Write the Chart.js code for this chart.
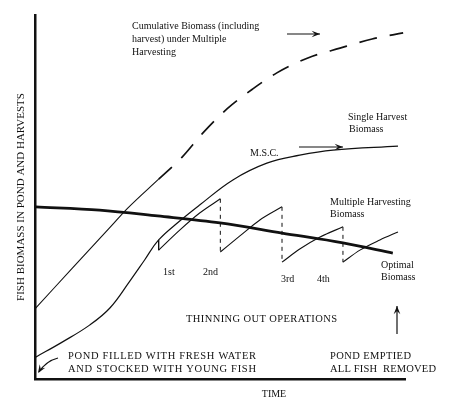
<!DOCTYPE html>
<html>
<head>
<meta charset="utf-8">
<script src="https://cdn.jsdelivr.net/npm/chart.js@4.4.0/dist/chart.umd.min.js"></script>
<style>
  html, body { margin: 0; padding: 0; background: #fff; }
</style>
</head>
<body>
<canvas id="myChart" width="450" height="412"></canvas>
<script>
// Both axes are unitless (0-100)

// Optimal biomass (thick line)
const optimalX = [0, 17.3, 33.0, 49.9, 66.7, 83.2, 96.7];
const optimalY = [47.3, 46.4, 44.8, 42.9, 40.1, 37.4, 34.6];

// Single harvest biomass (S-curve)
const singleX = [0, 7.3, 14.6, 20.1, 25.5, 29.5, 33.3, 39.0, 44.4, 53.4, 62.6, 71.5, 80.5, 98.1];
const singleY = [6.0, 10.2, 14.8, 19.5, 26.9, 32.7, 38.2, 43.4, 47.8, 54.7, 59.3, 61.5, 62.9, 64.0];

// Cumulative biomass: solid up to the 1st thinning, dashed afterwards
const cumSolidX = [0, 10, 20, 25, 33.3];
const cumSolidY = [19.5, 30.5, 41.5, 47.0, 54.9];
const cumDashX = [33.3, 39.6, 45.3, 51.8, 58.8, 65.3, 73.7, 82.4, 91.1, 99.5];
const cumDashY = [54.9, 60.9, 67.6, 74.2, 79.7, 84.1, 88.2, 90.9, 93.4, 95.1];

// Multiple harvesting biomass: regrowth after each thinning
const harvestLabels = ['1st', '2nd', '3rd', '4th'];
const regrowX = [
  [33.3, 39.0, 44.4, 50.0],
  [50.0, 55.3, 60.7, 66.7],
  [66.7, 71.5, 77.0, 83.2],
  [83.2, 87.8, 93.2, 98.1]
];
const regrowY = [
  [35.4, 40.9, 45.6, 49.5],
  [34.9, 39.3, 43.7, 47.3],
  [32.1, 35.7, 39.0, 41.8],
  [32.1, 35.4, 38.2, 40.4]
];

const pts = (xs, ys) => xs.map((x, i) => ({ x: x, y: ys[i] }));
const serif = '"Liberation Serif", "Times New Roman", serif';

const datasets = [
  { data: pts(optimalX, optimalY), borderWidth: 2.8 },
  { data: pts(singleX, singleY), borderWidth: 1.2, tension: 0.4 },
  { data: pts(cumSolidX, cumSolidY), borderWidth: 1.1 },
  { data: pts(cumDashX, cumDashY), borderWidth: 1.7, borderDash: [18, 13] }
];

regrowX.forEach((xs, i) => {
  datasets.push({ data: pts(xs, regrowY[i]), borderWidth: 1.1 });
  // the thinning drop just before this regrowth
  const top = i === 0 ? singleY[singleX.indexOf(xs[0])] : regrowY[i - 1][regrowY[i - 1].length - 1];
  datasets.push({
    data: [{ x: xs[0], y: top }, { x: xs[0], y: regrowY[i][0] }],
    borderWidth: 1,
    borderDash: i === 0 ? [] : [4, 4],
    tension: 0
  });
});

datasets.forEach(d => {
  d.borderColor = '#111';
  d.pointRadius = 0;
  d.fill = false;
  if (d.tension === undefined) d.cubicInterpolationMode = 'monotone';
});

// free text and arrows of the sketch
function label(ctx, text, x, y, width) {
  if (width) {
    const w = ctx.measureText(text).width;
    ctx.letterSpacing = ((width - w) / (text.length - 1)) + 'px';
  }
  ctx.fillText(text, x, y);
  ctx.letterSpacing = '0px';
}

function arrow(ctx, x1, y1, x2, y2) {
  ctx.beginPath();
  ctx.moveTo(x1, y1);
  ctx.lineTo(x2, y2);
  ctx.stroke();
  head(ctx, x2, y2, Math.atan2(y2 - y1, x2 - x1));
}

function head(ctx, x, y, a) {
  ctx.beginPath();
  ctx.moveTo(x, y);
  ctx.lineTo(x - 9 * Math.cos(a - 0.38), y - 9 * Math.sin(a - 0.38));
  ctx.lineTo(x - 5 * Math.cos(a), y - 5 * Math.sin(a));
  ctx.lineTo(x - 9 * Math.cos(a + 0.38), y - 9 * Math.sin(a + 0.38));
  ctx.closePath();
  ctx.fill();
}

const notes = {
  id: 'notes',
  afterDraw(chart) {
    const ctx = chart.ctx;
    ctx.save();
    ctx.fillStyle = '#111';
    ctx.strokeStyle = '#111';
    ctx.lineWidth = 1.2;
    ctx.textBaseline = 'middle';
    ctx.textAlign = 'left';

    ctx.font = '10px ' + serif;
    label(ctx, 'Cumulative Biomass (including', 132, 26);
    label(ctx, 'harvest) under Multiple', 132, 39);
    label(ctx, 'Harvesting', 132, 52);
    label(ctx, 'Single Harvest', 348, 117);
    label(ctx, 'Biomass', 349, 129);
    label(ctx, 'M.S.C.', 250, 153);
    label(ctx, 'Multiple Harvesting', 330, 202);
    label(ctx, 'Biomass', 330, 214);
    label(ctx, harvestLabels[0], 163, 272);
    label(ctx, harvestLabels[1], 203, 272);
    label(ctx, harvestLabels[2], 281, 279);
    label(ctx, harvestLabels[3], 317, 279);
    label(ctx, 'Optimal', 381, 265);
    label(ctx, 'Biomass', 381, 277);

    ctx.font = '10.5px ' + serif;
    label(ctx, 'THINNING OUT OPERATIONS', 186, 319, 151);
    label(ctx, 'POND FILLED WITH FRESH WATER', 68, 356, 188);
    label(ctx, 'AND STOCKED WITH YOUNG FISH', 68, 369, 188);
    label(ctx, 'POND EMPTIED', 330, 356, 81);
    label(ctx, 'ALL FISH  REMOVED', 330, 369, 106);
    ctx.font = '10px ' + serif;
    ctx.textAlign = 'center';
    ctx.fillText('TIME', 274, 394);

    arrow(ctx, 287, 34, 320, 34);
    arrow(ctx, 299, 147, 343, 147);
    arrow(ctx, 397, 334, 397, 306);

    ctx.beginPath();
    ctx.moveTo(58, 358);
    ctx.quadraticCurveTo(46, 361, 39, 372);
    ctx.stroke();
    head(ctx, 38, 373, Math.atan2(11, -7));
    ctx.restore();
  }
};

const ctx = document.getElementById('myChart').getContext('2d');
new Chart(ctx, {
  type: 'line',
  data: { datasets: datasets },
  plugins: [notes],
  options: {
    responsive: false,
    animation: false,
    layout: { padding: { left: 11, top: 15, right: 45, bottom: 33 } },
    scales: {
      x: {
        type: 'linear',
        min: 0,
        max: 100,
        ticks: { display: false },
        grid: { display: false, drawTicks: false },
        border: { display: true, width: 2.5, color: '#111' }
      },
      y: {
        min: 0,
        max: 100,
        ticks: { display: false },
        grid: { display: false, drawTicks: false },
        border: { display: true, width: 2.5, color: '#111' },
        title: {
          display: true,
          text: 'FISH BIOMASS IN POND AND HARVESTS',
          color: '#111',
          font: { family: serif, size: 11, lineHeight: 1.15 },
          padding: { top: 4, bottom: 8 }
        }
      }
    },
    plugins: {
      legend: { display: false },
      tooltip: { enabled: false }
    }
  }
});
</script>
</body>
</html>
